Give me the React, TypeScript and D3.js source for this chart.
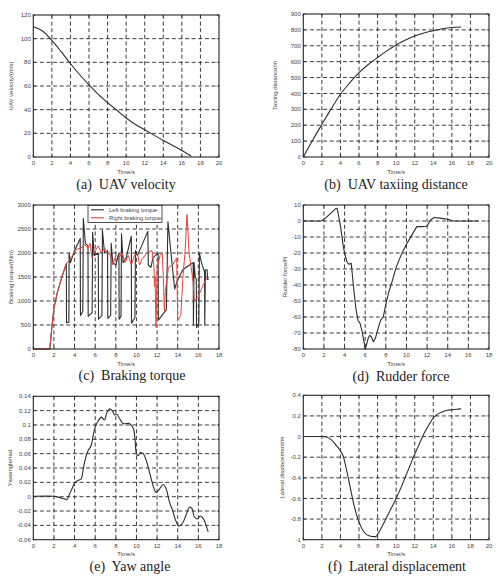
import React from 'react';
import * as d3 from 'd3';

// ---- data ----
const velocityTime = [0, 1, 2, 3, 4, 5, 6, 7, 8, 9, 10, 11, 12, 13, 14, 15, 16, 17];
const velocityValues = [110, 106.5, 98.5, 89, 79, 69.5, 61, 53, 46, 39.5, 33, 27.5, 23, 18.5, 14, 9.8, 5.5, 0.8];

const distanceTime = [0, 1, 2, 3, 4, 5, 6, 7, 8, 9, 10, 11, 12, 13, 14, 15, 16, 17];
const distanceValues = [0, 105, 205, 303, 395, 467, 531, 582, 626, 668, 705, 736, 762, 781, 795, 807, 815, 818];

const leftTorque: [number, number][] = [
  [0, 0], [1.6, 0], [1.8, 450], [2.0, 850], [2.3, 1150], [2.7, 1450], [3.0, 1650], [3.2, 1780],
  [3.22, 550], [3.45, 560], [3.47, 2000], [3.6, 1800], [4.0, 2050], [4.55, 2300],
  [4.57, 700], [4.8, 780], [4.85, 2720], [5.05, 2200], [5.3, 2150],
  [5.32, 680], [5.7, 760], [5.75, 2430], [5.9, 1950], [6.3, 2000],
  [6.32, 620], [6.65, 700], [6.7, 2480], [6.9, 2000], [7.2, 2050],
  [7.22, 640], [7.5, 700], [7.55, 2200], [7.7, 1800], [8.0, 1750], [8.3, 2000],
  [8.32, 620], [8.5, 680], [8.55, 2400], [8.7, 1800], [9.0, 1900], [9.5, 2350],
  [9.52, 540], [9.85, 650], [9.9, 2050], [10.1, 1950], [11.1, 2450],
  [11.15, 1750], [11.4, 1700], [11.6, 1900], [12.1, 2000],
  [12.12, 600], [12.9, 820], [13.05, 2650], [13.3, 2100], [13.7, 1250], [14.0, 1450], [14.5, 1650], [15.0, 1730], [15.5, 1800],
  [15.52, 500], [15.58, 1800], [15.7, 1500], [15.8, 1450],
  [15.82, 450], [16.05, 550], [16.1, 2000], [16.3, 1800], [16.6, 1600],
  [16.62, 500], [16.68, 1650], [16.85, 1650], [16.9, 1450], [17.0, 1450],
];

const rightTorque: [number, number][] = [
  [0, 0], [1.6, 0], [1.8, 450], [2.0, 850], [2.3, 1150], [2.7, 1450], [3.0, 1650], [3.2, 1780],
  [3.5, 1850], [3.8, 1950], [4.2, 2080], [4.6, 2100], [5.0, 2170], [5.3, 2100], [5.5, 2200],
  [5.7, 1900], [6.0, 2050], [6.3, 2150], [6.6, 2000], [6.9, 2100], [7.2, 2000], [7.5, 1950],
  [7.7, 1750], [8.0, 1950], [8.3, 1900], [8.6, 2000], [8.9, 1800], [9.2, 1950], [9.5, 1750],
  [9.8, 1950], [10.1, 2000], [10.3, 1750], [10.5, 1850], [11.0, 2000], [11.5, 2050],
  [11.7, 1700], [11.75, 1300], [11.8, 1500], [11.85, 900], [11.9, 450], [11.95, 1100],
  [12.0, 1700], [12.3, 1950], [12.5, 2000], [12.6, 1500], [12.7, 800], [12.8, 1200],
  [13.1, 1700], [13.5, 1750], [13.9, 1900], [13.95, 1200], [14.0, 600], [14.3, 700],
  [14.5, 1500], [14.7, 2000], [14.9, 2800], [15.0, 2400], [15.1, 2000], [15.3, 1700],
  [15.5, 1400], [15.6, 1000], [16.0, 1100], [16.5, 1350], [16.9, 1500],
];

const rudderForce: [number, number][] = [
  [0, 0], [1.7, 0], [2.0, 1], [2.6, 4.5], [3.2, 8], [3.3, 7.5], [3.6, -3], [3.9, -17], [4.2, -25],
  [4.4, -27], [4.65, -26.5], [4.85, -40], [5.1, -55], [5.3, -62], [5.5, -64], [5.7, -69],
  [5.9, -76], [6.0, -80], [6.1, -78], [6.3, -73], [6.45, -71.5], [6.6, -72.5], [6.8, -75.5],
  [7.0, -73], [7.3, -66], [7.5, -62], [7.75, -60], [8.0, -52], [8.3, -44], [8.6, -38],
  [9.0, -29], [9.5, -21], [10.0, -14.5], [10.5, -9], [11.0, -3.5], [11.5, -3.5], [12.0, -3.3],
  [12.3, 0.5], [12.7, 2.2], [13.2, 1.8], [13.8, 1.3], [14.2, 0.8], [14.5, 0], [17, 0],
];

const yawAngle: [number, number][] = [
  [0, 0.0005], [2, 0.0005], [2.5, -0.001], [3.0, -0.003], [3.25, -0.004], [3.5, 0.003],
  [3.75, 0.011], [4.05, 0.02], [4.4, 0.023], [4.65, 0.025], [4.8, 0.035], [5.0, 0.05],
  [5.3, 0.064], [5.6, 0.071], [5.8, 0.085], [6.0, 0.097], [6.3, 0.106], [6.6, 0.111],
  [6.9, 0.107], [7.15, 0.118], [7.4, 0.1225], [7.65, 0.12], [7.9, 0.114], [8.1, 0.115],
  [8.4, 0.108], [8.7, 0.102], [9.3, 0.102], [9.7, 0.095], [9.85, 0.081], [10.0, 0.06],
  [10.15, 0.057], [10.4, 0.062], [10.66, 0.06], [11.0, 0.048], [11.3, 0.032], [11.6, 0.016],
  [11.9, 0.006], [12.2, 0.01], [12.6, 0.017], [12.85, 0.012], [13.2, -0.0075], [13.5, -0.019],
  [13.8, -0.033], [14.1, -0.041], [14.5, -0.036], [14.8, -0.026], [15.15, -0.0145],
  [15.4, -0.017], [15.6, -0.028], [15.9, -0.031], [16.2, -0.027], [16.5, -0.031],
  [16.75, -0.04], [16.95, -0.049],
];

const lateralDisplacement: [number, number][] = [
  [0, 0], [2, 0], [2.5, -0.005], [3, -0.03], [3.5, -0.08], [4, -0.14], [4.3, -0.19], [4.6, -0.3],
  [5, -0.47], [5.5, -0.68], [6, -0.83], [6.5, -0.92], [7, -0.96], [7.5, -0.97], [7.8, -0.97],
  [8, -0.95], [8.5, -0.87], [9, -0.78], [9.5, -0.69], [10, -0.6], [10.5, -0.5], [11, -0.39],
  [11.5, -0.28], [12, -0.17], [12.5, -0.07], [13, 0.03], [13.5, 0.11], [14, 0.18], [14.5, 0.22],
  [15, 0.24], [15.5, 0.255], [16, 0.26], [16.5, 0.265], [17, 0.268],
];

const legendLabels = ['Left braking torque', 'Right braking torque'];

const LINE = '#2e2e2e';
const RED = '#e5453d';
const TICK_FONT = '"Liberation Sans", Arial, sans-serif';
const CAPTION_FONT = '"Liberation Serif", "Times New Roman", serif';

type Series = {
  points: [number, number][];
  color: string;
  width: number;
  curve?: d3.CurveFactory;
};

type PanelProps = {
  left: number;
  top: number;
  right: number;
  bottom: number;
  xMax: number;
  xStep: number;
  yMin: number;
  yMax: number;
  yStep: number;
  series: Series[];
  yLabel: string;
  yLabelX: number;
  caption: string;
  captionX: number;
  captionY: number;
  legend?: boolean;
};

const fmt = (v: number) => String(Math.round(v * 1000) / 1000);

function Panel(p: PanelProps) {
  const x = d3.scaleLinear().domain([0, p.xMax]).range([p.left, p.right]);
  const y = d3.scaleLinear().domain([p.yMin, p.yMax]).range([p.bottom, p.top]);
  const nx = Math.round(p.xMax / p.xStep);
  const ny = Math.round((p.yMax - p.yMin) / p.yStep);
  const xTicks = d3.range(nx + 1).map((i) => i * p.xStep);
  const yTicks = d3.range(ny + 1).map((i) => Math.round((p.yMin + i * p.yStep) * 1e6) / 1e6);
  const tl = 2.2;

  return (
    <g>
      {/* dashed grid */}
      {xTicks.slice(1, -1).map((t) => (
        <line key={'gx' + t} x1={x(t)} x2={x(t)} y1={p.top} y2={p.bottom}
          stroke="#262626" strokeWidth={0.9} strokeDasharray="4,2.6" />
      ))}
      {yTicks.slice(1, -1).map((t) => (
        <line key={'gy' + t} x1={p.left} x2={p.right} y1={y(t)} y2={y(t)}
          stroke="#262626" strokeWidth={0.9} strokeDasharray="4,2.6" />
      ))}
      {/* inward ticks on all sides */}
      {xTicks.map((t) => (
        <g key={'tx' + t}>
          <line x1={x(t)} x2={x(t)} y1={p.bottom} y2={p.bottom - tl} stroke="#262626" strokeWidth={0.8} />
          <line x1={x(t)} x2={x(t)} y1={p.top} y2={p.top + tl} stroke="#262626" strokeWidth={0.8} />
        </g>
      ))}
      {yTicks.map((t) => (
        <g key={'ty' + t}>
          <line x1={p.left} x2={p.left + tl} y1={y(t)} y2={y(t)} stroke="#262626" strokeWidth={0.8} />
          <line x1={p.right} x2={p.right - tl} y1={y(t)} y2={y(t)} stroke="#262626" strokeWidth={0.8} />
        </g>
      ))}
      {/* series */}
      {p.series.map((s, i) => {
        const gen = d3.line<[number, number]>()
          .x((d) => x(d[0]))
          .y((d) => y(d[1]))
          .curve(s.curve ?? d3.curveLinear);
        return (
          <path key={'s' + i} d={gen(s.points) ?? ''} fill="none" stroke={s.color}
            strokeWidth={s.width} strokeLinejoin="round" />
        );
      })}
      {/* frame */}
      <rect x={p.left} y={p.top} width={p.right - p.left} height={p.bottom - p.top}
        fill="none" stroke="#262626" strokeWidth={1.1} />
      {/* tick labels */}
      {xTicks.map((t) => (
        <text key={'lx' + t} x={x(t)} y={p.bottom + 8} textAnchor="middle"
          fontFamily={TICK_FONT} fontSize={6} fill="#444">{fmt(t)}</text>
      ))}
      {yTicks.map((t) => (
        <text key={'ly' + t} x={p.left - 2.5} y={y(t) + 2.1} textAnchor="end"
          fontFamily={TICK_FONT} fontSize={6} fill="#444">{fmt(t)}</text>
      ))}
      {/* axis titles */}
      <text x={(p.left + p.right) / 2} y={p.bottom + 16.5} textAnchor="middle"
        fontFamily={TICK_FONT} fontSize={6} fill="#444">Time/s</text>
      <text transform={`translate(${p.yLabelX},${(p.top + p.bottom) / 2}) rotate(-90)`}
        textAnchor="middle" fontFamily={TICK_FONT} fontSize={6} fill="#444">{p.yLabel}</text>
      {/* legend */}
      {p.legend && (
        <g>
          <rect x={88} y={205.5} width={74} height={17} fill="#fff" stroke="#262626" strokeWidth={0.8} />
          {legendLabels.map((lab, i) => (
            <g key={lab}>
              <line x1={91} x2={104} y1={209.8 + i * 8} y2={209.8 + i * 8}
                stroke={i === 0 ? LINE : RED} strokeWidth={1.1} />
              <text x={109} y={211.9 + i * 8} fontFamily={TICK_FONT} fontSize={5.8} fill="#444">{lab}</text>
            </g>
          ))}
        </g>
      )}
      {/* caption */}
      <text x={p.captionX} y={p.captionY} textAnchor="middle" fontFamily={CAPTION_FONT}
        fontSize={14} fill="#222" style={{ whiteSpace: 'pre' }}>{p.caption}</text>
    </g>
  );
}

const toPairs = (xs: number[], ys: number[]): [number, number][] => xs.map((t, i) => [t, ys[i]]);

export default function App() {
  return (
    <svg width={496} height={581} viewBox="0 0 496 581"
      style={{ position: 'absolute', left: 0, top: 0, background: '#fff' }}>
      <rect width={496} height={581} fill="#fff" />
      <Panel left={33.3} top={15} right={219} bottom={157} xMax={20} xStep={2}
        yMin={0} yMax={120} yStep={20}
        series={[{ points: toPairs(velocityTime, velocityValues), color: LINE, width: 1.1, curve: d3.curveMonotoneX }]}
        yLabel="UAV velocity/(m/s)" yLabelX={13} caption="(a)  UAV velocity" captionX={126} captionY={189} />
      <Panel left={303.3} top={14} right={489} bottom={157} xMax={20} xStep={2}
        yMin={0} yMax={900} yStep={100}
        series={[{ points: toPairs(distanceTime, distanceValues), color: LINE, width: 1.1, curve: d3.curveMonotoneX }]}
        yLabel="Taxiing distance/m" yLabelX={277} caption="(b)  UAV taxiing distance" captionX={396} captionY={189} />
      <Panel left={33.3} top={205} right={219} bottom={349} xMax={18} xStep={2}
        yMin={0} yMax={3000} yStep={500}
        series={[
          { points: leftTorque, color: LINE, width: 1.1 },
          { points: rightTorque, color: RED, width: 1.0 },
        ]}
        yLabel="Braking torque/(Nm)" yLabelX={13} caption="(c)  Braking torque" captionX={132} captionY={380}
        legend />
      <Panel left={303.3} top={205} right={489} bottom={349} xMax={18} xStep={2}
        yMin={-80} yMax={10} yStep={10}
        series={[{ points: rudderForce, color: LINE, width: 1.1 }]}
        yLabel="Rudder force/N" yLabelX={287} caption="(d)  Rudder force" captionX={401} captionY={380.5} />
      <Panel left={33.3} top={396.3} right={219} bottom={539.7} xMax={18} xStep={2}
        yMin={-0.06} yMax={0.14} yStep={0.02}
        series={[{ points: yawAngle, color: LINE, width: 1.1, curve: d3.curveCatmullRom }]}
        yLabel="Yawangle/rad" yLabelX={12} caption="(e)  Yaw angle" captionX={130} captionY={571} />
      <Panel left={303.3} top={395.3} right={489} bottom={539.7} xMax={20} xStep={2}
        yMin={-1} yMax={0.4} yStep={0.2}
        series={[{ points: lateralDisplacement, color: LINE, width: 1.1, curve: d3.curveMonotoneX }]}
        yLabel="Lateral displacement/m" yLabelX={284} caption="(f)  Lateral displacement" captionX={397} captionY={571} />
    </svg>
  );
}
